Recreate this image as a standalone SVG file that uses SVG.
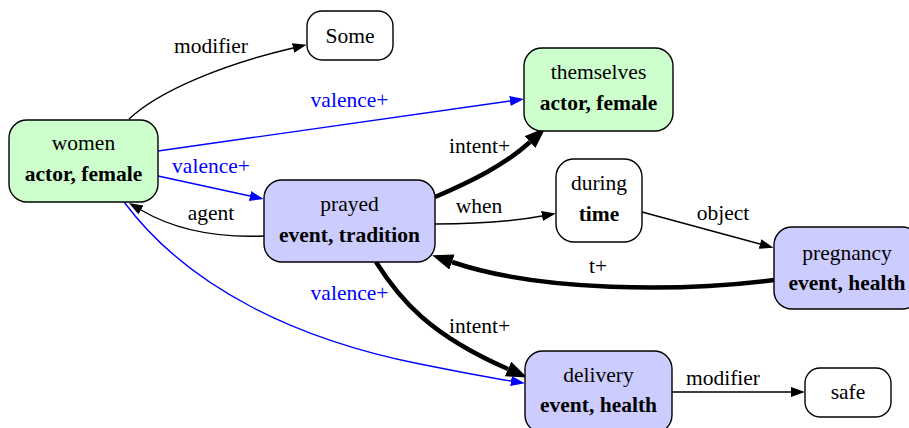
<svg xmlns="http://www.w3.org/2000/svg" width="909" height="428" viewBox="0 0 909 428">
<style>
text{font-family:"Liberation Serif","Times New Roman",serif;font-size:21.5px;text-anchor:middle;fill:#000}
.b{font-weight:bold}
.lb{fill:#0000ff}
.node{stroke:#000;stroke-width:1.4}
.green{fill:#ccffcc}
.blue{fill:#ccccff}
.white{fill:#fff}
.e{fill:none;stroke:#000;stroke-width:1.4}
.eb{fill:none;stroke:#0000ff;stroke-width:1.4}
.et{fill:none;stroke:#000;stroke-width:4.5}
</style>
<defs>
<marker id="ah" viewBox="0 0 14 10" refX="0" refY="5" markerWidth="14" markerHeight="10" markerUnits="userSpaceOnUse" orient="auto"><path d="M0,0 L14,5 L0,10 z" fill="#000"/></marker>
<marker id="ahb" viewBox="0 0 14 10" refX="0" refY="5" markerWidth="14" markerHeight="10" markerUnits="userSpaceOnUse" orient="auto"><path d="M0,0 L14,5 L0,10 z" fill="#0000ff"/></marker>
<marker id="aht" viewBox="0 0 21 16" refX="0" refY="8" markerWidth="21" markerHeight="16" markerUnits="userSpaceOnUse" orient="auto"><path d="M0,0 L21,8 L0,16 z" fill="#000"/></marker>
</defs>
<g id="connectors">
<path class="e" d="M129,119 C160,90 225,64 293,48" marker-end="url(#ah)"/>
<text x="211" y="53">modifier</text>
<path class="eb" d="M158,151 L510,101" marker-end="url(#ahb)"/>
<text class="lb" x="349.5" y="107">valence+</text>
<path class="eb" d="M158,176 L250,196" marker-end="url(#ahb)"/>
<text class="lb" x="211" y="173">valence+</text>
<path class="e" d="M264,236 C215,238 175,230 141,210" marker-end="url(#ah)"/>
<text x="211" y="220">agent</text>
<path class="eb" d="M124,202 C190,290 300,340 420,364 C455,371 485,377 511,381" marker-end="url(#ahb)"/>
<text class="lb" x="349.5" y="300">valence+</text>
<path class="et" d="M435,197 C470,182 505,165 530,142" marker-end="url(#aht)"/>
<text x="479.5" y="153">intent+</text>
<path class="e" d="M435,224 C480,224 510,222 542,216" marker-end="url(#ah)"/>
<text x="479" y="213">when</text>
<path class="e" d="M642,212 L760,244" marker-end="url(#ah)"/>
<text x="723" y="220">object</text>
<path class="et" d="M774,280 C680,292 540,292 452,262" marker-end="url(#aht)"/>
<text x="598" y="273">t+</text>
<path class="et" d="M376,262 C400,300 430,335 508,369" marker-end="url(#aht)"/>
<text x="479.5" y="333">intent+</text>
<path class="e" d="M672,392 L791,392" marker-end="url(#ah)"/>
<text x="723" y="385">modifier</text>
</g>
<g id="women"><rect class="node green" x="9" y="120" width="149" height="82" rx="18"/><text x="83.5" y="150">women</text><text class="b" x="83.5" y="181">actor, female</text></g>
<g id="some"><rect class="node white" x="307" y="11" width="86" height="49" rx="15"/><text x="350" y="43">Some</text></g>
<g id="themselves"><rect class="node green" x="524" y="48" width="149" height="83" rx="18"/><text x="598.5" y="79">themselves</text><text class="b" x="598.5" y="110">actor, female</text></g>
<g id="prayed"><rect class="node blue" x="264" y="180" width="171" height="82" rx="18"/><text x="349.5" y="211">prayed</text><text class="b" x="349.5" y="242">event, tradition</text></g>
<g id="during"><rect class="node white" x="556" y="159" width="86" height="83" rx="18"/><text x="599" y="190">during</text><text class="b" x="599" y="221">time</text></g>
<g id="pregnancy"><rect class="node blue" x="774" y="227" width="146" height="82" rx="18"/><text x="847" y="260">pregnancy</text><text class="b" x="847" y="290">event, health</text></g>
<g id="delivery"><rect class="node blue" x="525" y="351" width="147" height="82" rx="18"/><text x="598.5" y="382">delivery</text><text class="b" x="598.5" y="412">event, health</text></g>
<g id="safe"><rect class="node white" x="805" y="368" width="86" height="49" rx="15"/><text x="848" y="399">safe</text></g>
</svg>
